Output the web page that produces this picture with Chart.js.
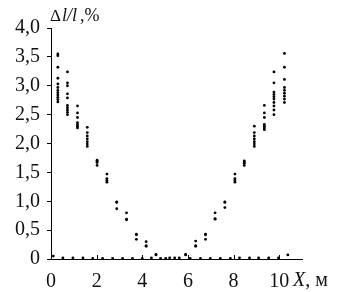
<!DOCTYPE html>
<html>
<head>
<meta charset="utf-8">
<script src="https://cdn.jsdelivr.net/npm/chart.js@4"></script>
<style>
html,body{margin:0;padding:0;background:#fff;}
#wrap{width:342px;height:292px;position:relative;}
</style>
</head>
<body>
<div id="wrap"><canvas id="c" width="342" height="292"></canvas></div>
<script>
// ---- data ----
const xTickValues = [0, 2, 4, 6, 8, 10];
const xTickLabels = ['0', '2', '4', '6', '8', '10'];
const yTickValues = [0, 0.5, 1.0, 1.5, 2.0, 2.5, 3.0, 3.5, 4.0];
const yTickLabels = ['0', '0,5', '1,0', '1,5', '2,0', '2,5', '3,0', '3,5', '4,0'];

// column positions (m) of the measured groups
const colX = [0.30, 0.72, 1.16, 1.59, 2.02, 2.45, 2.88, 3.31, 3.74, 4.17, 4.60, 5.03,
              5.90, 6.34, 6.77, 7.19, 7.62, 8.06, 8.47, 8.91, 9.35, 9.77, 10.23];
// measured Δl/l values (%) in each column
const colValues = [
  [3.55, 3.52, 3.32, 3.13, 3.03, 2.97, 2.92, 2.88, 2.84, 2.80, 2.76, 2.72],
  [3.24, 3.05, 3.00, 2.86, 2.79, 2.66, 2.62, 2.58, 2.54, 2.50],
  [2.65, 2.53, 2.45, 2.36, 2.33, 2.30, 2.27],
  [2.28, 2.19, 2.13, 2.08, 2.03, 1.99, 1.95],
  [1.71, 1.69, 1.67, 1.62],
  [1.47, 1.39, 1.36, 1.33],
  [0.99, 0.98, 0.87],
  [0.80, 0.69, 0.68],
  [0.43, 0.42, 0.34],
  [0.30, 0.23, 0.22],
  [0.08, 0.07],
  [0.01],
  [0.08, 0.07],
  [0.31, 0.23, 0.22],
  [0.43, 0.42, 0.34],
  [0.80, 0.70, 0.69],
  [0.99, 0.98, 0.89],
  [1.47, 1.39, 1.36, 1.33],
  [1.70, 1.68, 1.66, 1.62],
  [2.30, 2.19, 2.13, 2.08, 2.03, 1.99, 1.95],
  [2.66, 2.53, 2.45, 2.33, 2.30, 2.27, 2.24],
  [3.24, 3.05, 2.89, 2.85, 2.81, 2.77, 2.71, 2.65, 2.58, 2.50],
  [3.56, 3.32, 3.11, 2.97, 2.92, 2.87, 2.82, 2.77, 2.71]
];
// near-zero series along the axis
const baseX = [0.10, 0.52, 0.96, 1.40, 1.83, 2.26, 2.70, 3.14, 3.57, 4.00, 4.40, 4.80,
               5.20, 5.42, 5.62, 6.10, 6.55, 6.98, 7.42, 7.86, 8.26, 8.70, 9.10, 9.54, 9.97, 10.38];
const baseY = [0.05, 0.02, 0.02, 0.02, 0.01, 0.01, 0.01, 0.01, 0.01, 0.01, 0.02, 0.01,
               0.02, 0.02, 0.02, 0.01, 0.01, 0.01, 0.01, 0.01, 0.02, 0.02, 0.02, 0.02, 0.02, 0.07];

const mainPoints = [];
colX.forEach((x, i) => colValues[i].forEach(v => mainPoints.push({x: x, y: v})));
const basePoints = baseX.map((x, i) => ({x: x, y: baseY[i]}));

const SERIF = '"Liberation Serif", "Times New Roman", serif';

const inwardTicks = {
  id: 'inwardTicks',
  afterDraw(chart) {
    const ctx = chart.ctx, xs = chart.scales.x, a = chart.chartArea;
    ctx.save();
    ctx.strokeStyle = '#000';
    ctx.lineWidth = 1;
    xTickValues.forEach(v => {
      const px = Math.round(xs.getPixelForValue(v)) + 0.5;
      ctx.beginPath();
      ctx.moveTo(px, a.bottom);
      ctx.lineTo(px, a.bottom - 4);
      ctx.stroke();
    });
    // axis titles with mixed italic
    ctx.fillStyle = '#111';
    ctx.textBaseline = 'alphabetic';
    let x = 50, y = 21;
    ctx.font = '17px ' + SERIF;
    ctx.fillText('\u0394', x, y); x += ctx.measureText('\u0394').width + 1;
    ctx.font = 'italic 18px ' + SERIF;
    ctx.fillText('l/l', x, y); x += ctx.measureText('l/l').width + 3;
    ctx.font = '18px ' + SERIF;
    ctx.fillText(',%', x, y);

    x = 293; y = 286;
    ctx.font = 'italic 20px ' + SERIF;
    ctx.fillText('X', x, y); x += ctx.measureText('X').width;
    ctx.font = '20px ' + SERIF;
    ctx.fillText(', \u043c', x, y);
    ctx.restore();
  }
};

new Chart(document.getElementById('c'), {
  type: 'scatter',
  data: {
    datasets: [
      {data: mainPoints, backgroundColor: '#000', borderColor: '#000', pointRadius: 1.4, borderWidth: 0},
      {data: basePoints, backgroundColor: '#000', borderColor: '#000', pointRadius: 1.4, borderWidth: 0}
    ]
  },
  options: {
    responsive: false,
    animation: false,
    devicePixelRatio: 1,
    layout: {padding: {top: 28, right: 40, left: 0, bottom: 0}},
    plugins: {legend: {display: false}, tooltip: {enabled: false}, title: {display: false}},
    scales: {
      x: {
        type: 'linear', min: 0, max: 11,
        afterFit(s) { s.height = 33; },
        afterBuildTicks(s) { s.ticks = xTickValues.map(v => ({value: v})); },
        grid: {display: true, drawOnChartArea: false, drawTicks: false},
        border: {display: true, color: '#000', width: 1},
        ticks: {
          padding: 11, color: '#111', font: {family: SERIF, size: 20}, maxRotation: 0,
          callback(v) { const i = xTickValues.indexOf(v); return i >= 0 ? xTickLabels[i] : ''; }
        }
      },
      y: {
        type: 'linear', min: 0, max: 4,
        afterFit(s) { s.width = 51; },
        afterBuildTicks(s) { s.ticks = yTickValues.map(v => ({value: v})); },
        grid: {display: true, drawOnChartArea: false, drawTicks: true, tickLength: 4, color: '#000'},
        border: {display: true, color: '#000', width: 1},
        ticks: {
          padding: 7, color: '#111', font: {family: SERIF, size: 20},
          callback(v) { const i = yTickValues.findIndex(t => Math.abs(t - v) < 1e-9); return i >= 0 ? yTickLabels[i] : ''; }
        }
      }
    }
  },
  plugins: [inwardTicks]
});
</script>
</body>
</html>
